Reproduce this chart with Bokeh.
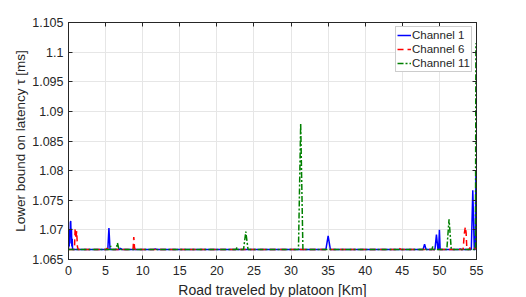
from bokeh.plotting import figure
from bokeh.models import FixedTicker, LinearAxis, Range1d, Legend, LegendItem, CustomJSTickFormatter
from bokeh.embed import file_html
from bokeh.resources import INLINE

# Channel 1 (blue, solid)
ch1_x = [0.0, 0.05, 0.1, 0.15, 0.2, 0.25, 0.3, 0.35, 0.4, 0.45, 0.5, 0.55, 0.6, 5.3, 5.45, 5.6,
         6.9, 7.0, 7.2, 11.5, 11.7, 11.9, 34.7, 35.0, 35.3, 47.8, 48.0, 48.2, 49.4, 49.6, 49.8,
         49.9, 50.0, 50.1, 52.7, 52.8, 52.9, 54.3, 54.5, 54.7, 54.85, 54.92]
ch1_y = [1.0667, 1.0695, 1.0672, 1.0700, 1.0677, 1.0712, 1.0715, 1.0690, 1.0702, 1.0672, 1.0685, 1.0667, 1.0667,
         1.0667, 1.0703, 1.0667, 1.0667, 1.0669, 1.0667, 1.0667, 1.0668, 1.0667, 1.0667, 1.0690, 1.0667,
         1.0667, 1.0676, 1.0667, 1.0667, 1.0692, 1.0667, 1.0667, 1.0700, 1.0667, 1.0667, 1.0668, 1.0667,
         1.0667, 1.0767, 1.0667, 1.0667, 1.0800]

# Channel 6 (red, dashed)
ch6_x = [0.0, 0.8, 0.9, 1.0, 1.1, 1.2, 1.3, 5.1, 5.2, 5.3, 8.7, 8.8, 8.9, 9.0, 44.4, 44.6, 44.8,
         53.2, 53.35, 53.5, 53.6, 53.7, 54.0, 54.1, 54.2, 54.7, 54.8, 54.92]
ch6_y = [1.0667, 1.0667, 1.0703, 1.0685, 1.0698, 1.0672, 1.0667, 1.0667, 1.0669, 1.0667, 1.0667, 1.0688, 1.0670, 1.0667,
         1.0667, 1.0669, 1.0667, 1.0667, 1.0693, 1.0705, 1.0695, 1.0667, 1.0667, 1.0670, 1.0667, 1.0667, 1.0670, 1.0667]

# Channel 11 (green, dash-dot)
ch11_x = [0.0, 5.6, 5.7, 5.8, 6.4, 6.6, 6.8, 22.6, 22.7, 22.8, 23.6, 23.9, 24.2, 31.0, 31.3, 31.6,
          49.0, 49.1, 49.2, 51.0, 51.3, 51.6, 54.86, 54.92]
ch11_y = [1.0667, 1.0667, 1.0673, 1.0667, 1.0667, 1.0678, 1.0667, 1.0667, 1.0671, 1.0667, 1.0667, 1.0697, 1.0667,
          1.0667, 1.0880, 1.0667, 1.0667, 1.0672, 1.0667, 1.0667, 1.0718, 1.0667, 1.0667, 1.1015]

x_ticks = [0, 5, 10, 15, 20, 25, 30, 35, 40, 45, 50, 55]
y_ticks = [1.065, 1.07, 1.075, 1.08, 1.085, 1.09, 1.095, 1.1, 1.105]
y_labels = ["1.065", "1.07", "1.075", "1.08", "1.085", "1.09", "1.095", "1.1", "1.105"]

FONT = "Liberation Sans"
AX = "#262626"

p = figure(frame_width=408, frame_height=237, output_backend="svg", toolbar_location=None,
           x_range=Range1d(0, 55), y_range=Range1d(1.065, 1.105),
           min_border_left=68, min_border_right=20, min_border_top=22, min_border_bottom=0)
p.background_fill_color = "white"
p.border_fill_color = "white"
p.outline_line_color = AX
p.outline_line_width = 1

r1 = p.line(ch1_x, ch1_y, line_color="#0000ff", line_width=1.5)
r6 = p.line(ch6_x, ch6_y, line_color="#ff0000", line_width=1.5, line_dash="6 4")
r11 = p.line(ch11_x, ch11_y, line_color="#008000", line_width=1.5, line_dash="6 2 2 2")

for ax in (p.xaxis[0], p.yaxis[0]):
    ax.axis_line_color = AX
    ax.major_tick_line_color = AX
    ax.major_tick_in = 4
    ax.major_tick_out = 0
    ax.minor_tick_line_color = None
    ax.major_label_text_font = FONT
    ax.major_label_text_font_size = "12.5px"
    ax.major_label_text_color = AX
    ax.axis_label_text_font = FONT
    ax.axis_label_text_font_style = "normal"
    ax.axis_label_text_color = AX

p.xaxis[0].ticker = FixedTicker(ticks=x_ticks)
p.yaxis[0].ticker = FixedTicker(ticks=y_ticks)
p.yaxis[0].major_label_overrides = {t: l for t, l in zip(y_ticks, y_labels)}
p.xaxis[0].axis_label = "Road traveled by platoon [Km]"
p.yaxis[0].axis_label = "Lower bound on latency τ [ms]"
p.xaxis[0].axis_label_text_font_size = "14px"
p.yaxis[0].axis_label_text_font_size = "13.5px"
p.xaxis[0].axis_label_standoff = 4
p.yaxis[0].axis_label_standoff = 1
p.xaxis[0].major_label_standoff = 6
p.yaxis[0].major_label_standoff = 5

blank = CustomJSTickFormatter(code="return '';")
top = LinearAxis(ticker=FixedTicker(ticks=x_ticks), formatter=blank, major_label_standoff=0,
                 major_tick_in=4, major_tick_out=0, minor_tick_line_color=None,
                 axis_line_color=AX, major_tick_line_color=AX)
right = LinearAxis(ticker=FixedTicker(ticks=y_ticks), formatter=blank, major_label_standoff=0,
                   major_tick_in=4, major_tick_out=0, minor_tick_line_color=None,
                   axis_line_color=AX, major_tick_line_color=AX)
p.add_layout(top, "above")
p.add_layout(right, "right")

p.xgrid.ticker = FixedTicker(ticks=x_ticks)
p.ygrid.ticker = FixedTicker(ticks=y_ticks)
p.xgrid.grid_line_color = "#e6e6e6"
p.ygrid.grid_line_color = "#e6e6e6"

legend = Legend(items=[LegendItem(label="Channel 1", renderers=[r1]),
                       LegendItem(label="Channel 6", renderers=[r6]),
                       LegendItem(label="Channel 11", renderers=[r11])],
                location="top_right")
legend.label_text_font = FONT
legend.label_text_font_size = "11.5px"
legend.label_text_color = AX
legend.glyph_width = 14
legend.glyph_height = 14
legend.label_height = 14
legend.label_standoff = 1
legend.spacing = 0
legend.padding = 1
legend.margin = 4
legend.border_line_color = "#999999"
legend.background_fill_alpha = 1
p.add_layout(legend)

open("out.html", "w").write(file_html(p, INLINE))
